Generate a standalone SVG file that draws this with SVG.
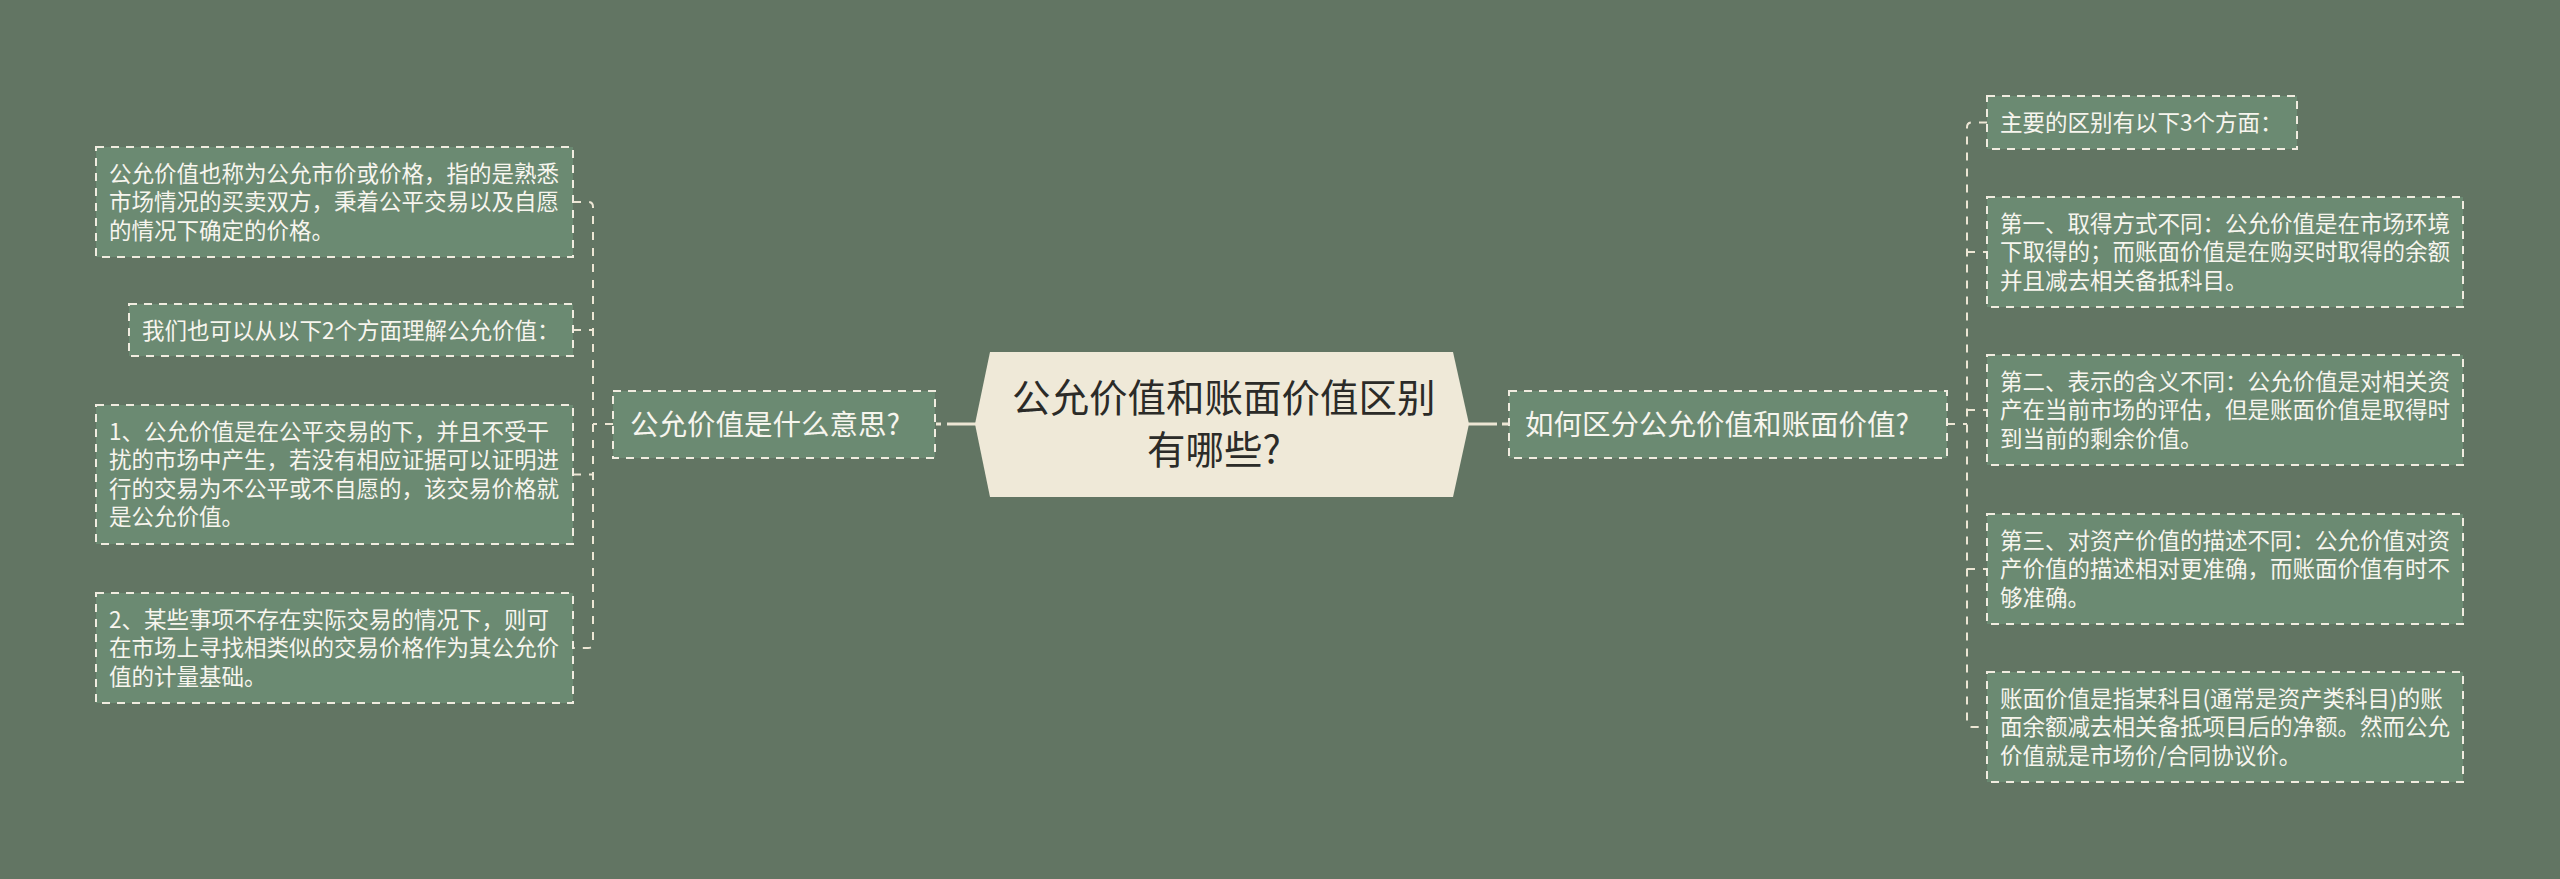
<svg xmlns="http://www.w3.org/2000/svg" width="2560" height="879" viewBox="0 0 2560 879">
<style>
.bg{fill:#627563}
.box{fill:#6b8a72;stroke:#f0ece0;stroke-width:2;stroke-dasharray:8 7}
.t{font-family:"Noto Sans CJK SC","Noto Sans",sans-serif;fill:#f7f5ee;font-size:22.5px}
.tn{font-family:"Noto Sans CJK SC","Noto Sans",sans-serif;fill:#f7f5ee;font-size:28.5px}
.tc{font-family:"Noto Sans CJK SC","Noto Sans",sans-serif;fill:#2b2b28;font-size:38.5px}
.center{fill:#efe9d8}
.c{fill:none;stroke:#ece6d4;stroke-width:2;stroke-dasharray:8 8}
.s{fill:none;stroke:#ece6d4;stroke-width:3}
</style>
<rect class="bg" x="0" y="0" width="2560" height="879"/>
<g id="connectors">
<line class="s" x1="947" y1="424" x2="976" y2="424"/>
<line class="s" x1="936" y1="424" x2="941" y2="424"/>
<line class="s" x1="1468" y1="424" x2="1497" y2="424"/>
<line class="s" x1="1502" y1="424" x2="1508" y2="424"/>
<path class="c" d="M613,424 H593"/>
<path class="c" d="M573,202 H588 Q593,202 593,207 V643 Q593,648 588,648 H573"/>
<path class="c" d="M573,330 H593"/>
<path class="c" d="M573,474.5 H593"/>
<path class="c" d="M1947,424 H1967"/>
<path class="c" d="M1987,122.5 H1972 Q1967,122.5 1967,127.5 V722 Q1967,727 1972,727 H1987"/>
<path class="c" d="M1967,252 H1987"/>
<path class="c" d="M1967,410 H1987"/>
<path class="c" d="M1967,569 H1987"/>
</g>
<g id="root">
<polygon class="center" points="975,424 990,352 1453,352 1469,424 1453,497 990,497"/>
<text class="tc" x="1012" y="412">公允价值和账面价值区别</text>
<text class="tc" x="1147" y="464">有哪些?</text>
</g>
<g id="left-main">
<rect class="box" x="613" y="391" width="322" height="67"/>
<text class="tn" x="630" y="435">公允价值是什么意思?</text>
</g>
<g id="left-1">
<rect class="box" x="96" y="147" width="477" height="110"/>
<text class="t" x="109" y="181.5">公允价值也称为公允市价或价格，指的是熟悉</text>
<text class="t" x="109" y="210">市场情况的买卖双方，秉着公平交易以及自愿</text>
<text class="t" x="109" y="238.5">的情况下确定的价格。</text>
</g>
<g id="left-2">
<rect class="box" x="129" y="304" width="444" height="52"/>
<text class="t" x="142" y="338.5">我们也可以从以下2个方面理解公允价值：</text>
</g>
<g id="left-3">
<rect class="box" x="96" y="405" width="477" height="139"/>
<text class="t" x="109" y="439.5">1、公允价值是在公平交易的下，并且不受干</text>
<text class="t" x="109" y="468">扰的市场中产生，若没有相应证据可以证明进</text>
<text class="t" x="109" y="496.5">行的交易为不公平或不自愿的，该交易价格就</text>
<text class="t" x="109" y="525">是公允价值。</text>
</g>
<g id="left-4">
<rect class="box" x="96" y="593" width="477" height="110"/>
<text class="t" x="109" y="627.5">2、某些事项不存在实际交易的情况下，则可</text>
<text class="t" x="109" y="656">在市场上寻找相类似的交易价格作为其公允价</text>
<text class="t" x="109" y="684.5">值的计量基础。</text>
</g>
<g id="right-main">
<rect class="box" x="1509" y="391" width="438" height="67"/>
<text class="tn" x="1525" y="435">如何区分公允价值和账面价值?</text>
</g>
<g id="right-1">
<rect class="box" x="1987" y="96" width="310" height="53"/>
<text class="t" x="2000" y="131">主要的区别有以下3个方面：</text>
</g>
<g id="right-2">
<rect class="box" x="1987" y="197" width="476" height="110"/>
<text class="t" x="2000" y="231.5">第一、取得方式不同：公允价值是在市场环境</text>
<text class="t" x="2000" y="260">下取得的；而账面价值是在购买时取得的余额</text>
<text class="t" x="2000" y="288.5">并且减去相关备抵科目。</text>
</g>
<g id="right-3">
<rect class="box" x="1987" y="355" width="476" height="110"/>
<text class="t" x="2000" y="389.5">第二、表示的含义不同：公允价值是对相关资</text>
<text class="t" x="2000" y="418">产在当前市场的评估，但是账面价值是取得时</text>
<text class="t" x="2000" y="446.5">到当前的剩余价值。</text>
</g>
<g id="right-4">
<rect class="box" x="1987" y="514" width="476" height="110"/>
<text class="t" x="2000" y="548.5">第三、对资产价值的描述不同：公允价值对资</text>
<text class="t" x="2000" y="577">产价值的描述相对更准确，而账面价值有时不</text>
<text class="t" x="2000" y="605.5">够准确。</text>
</g>
<g id="right-5">
<rect class="box" x="1987" y="672" width="476" height="110"/>
<text class="t" x="2000" y="706.5">账面价值是指某科目(通常是资产类科目)的账</text>
<text class="t" x="2000" y="735">面余额减去相关备抵项目后的净额。然而公允</text>
<text class="t" x="2000" y="763.5">价值就是市场价/合同协议价。</text>
</g>
</svg>
